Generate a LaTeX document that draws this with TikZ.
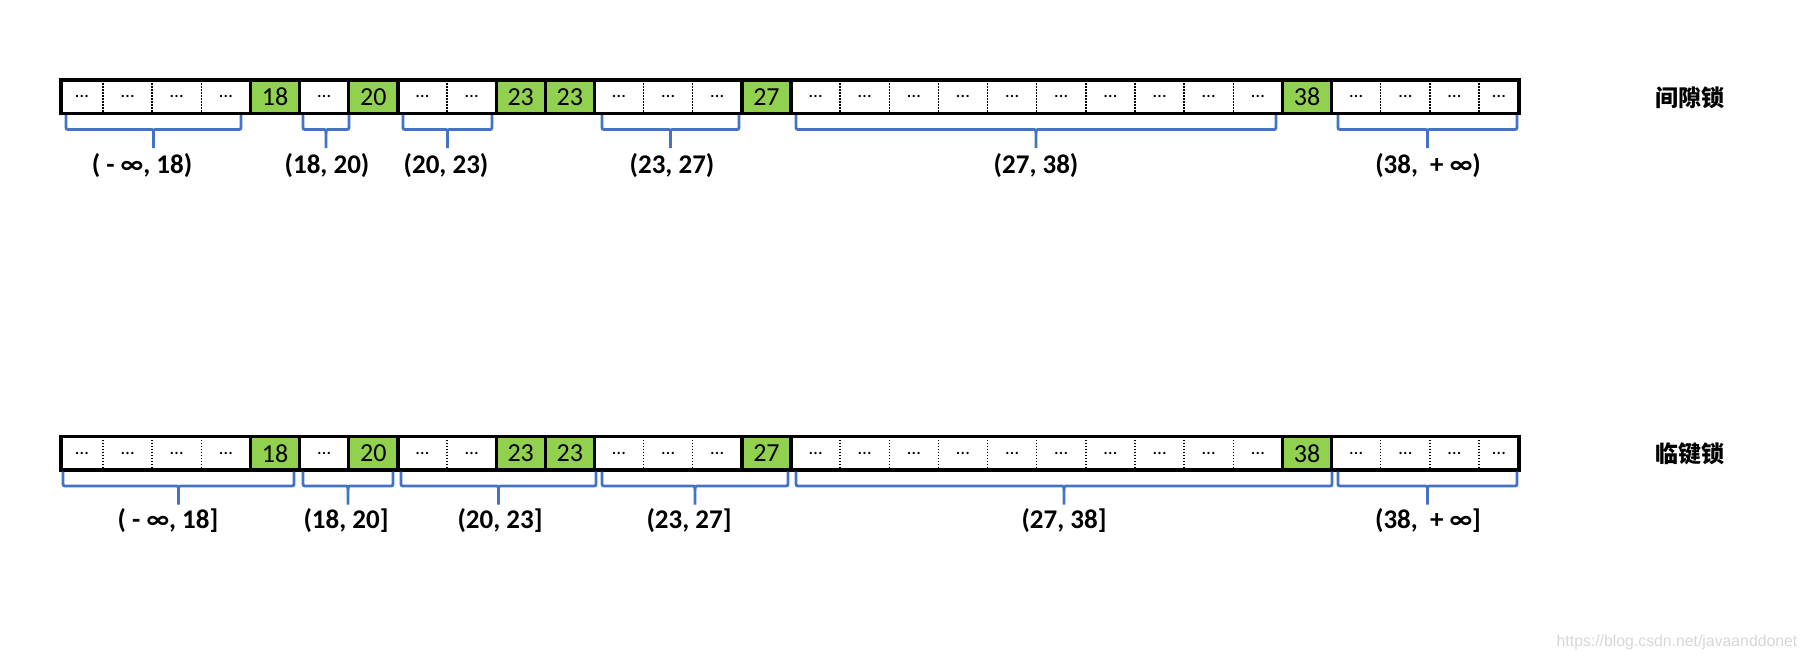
\documentclass[tikz,border=0pt]{standalone}
\usepackage{fontspec}
\setmainfont{Carlito}
\newfontfamily\cjk{Noto Sans CJK SC}
\newfontfamily\wmfont{Liberation Sans}
\definecolor{cellgreen}{HTML}{92D050}
\definecolor{bracecol}{HTML}{4472C4}
\definecolor{wmgray}{HTML}{D6D6D6}

\newcommand{\lockbar}[3]{% prefix, top y, bottom y
  \pgfmathsetmacro\ymid{(#2+#3)/2}
  \foreach \i/\t in {4/18,6/20,9/23,10/23,14/27,25/38}{
    \fill[cellgreen] ({ex(\i)},#2) rectangle ({ex(\i+1)},#3);
    \node[numtxt] (#1-n\i) at ({(ex(\i)+ex(\i+1))/2},\ymid) {\t};
  }
  \foreach \i in {0,1,2,3,5,7,8,11,12,13,15,16,17,18,19,20,21,22,23,24,26,27,28,29}{
    \node[dotstxt] (#1-d\i) at ({(ex(\i)+ex(\i+1))/2},\ymid) {…};
  }
  \foreach \i in {1,2,3,8,12,13,16,17,18,19,20,21,22,23,24,27,28,29}{
    \draw[dashln] ({ex(\i)},#2) -- ({ex(\i)},#3);
  }
  \foreach \i in {4,5,6,7,9,10,11,14,15,25,26}{
    \draw[thickln] ({ex(\i)},#2) -- ({ex(\i)},#3);
  }
  \draw[thickln] (61,#2) rectangle (1519,#3);
}

\newcommand{\lockbrace}[3]{% x1, x2, bar bottom
  \pgfmathsetmacro\xm{(#1+#2)/2}
  \pgfmathsetmacro\ya{#3+1.5}
  \pgfmathsetmacro\yh{#3+16}
  \pgfmathsetmacro\yb{#3+12}
  \pgfmathsetmacro\yc{#3+20}
  \pgfmathsetmacro\ye{#3+34.5}
  \draw[brc] (#1,\ya) -- (#1,\yb) .. controls (#1,\yh) .. ({#1+4},\yh) -- ({\xm-4},\yh) .. controls (\xm,\yh) .. (\xm,\yc) -- (\xm,\ye);
  \draw[brc] (#2,\ya) -- (#2,\yb) .. controls (#2,\yh) .. ({#2-4},\yh) -- ({\xm+4},\yh) .. controls (\xm,\yh) .. (\xm,\yc);
}

\begin{document}
\begin{tikzpicture}[x=0.5pt,y=-0.5pt,
  declare function={ex(\i)=(\i==0)*61+(\i==30)*1519+(\i>0)*(\i<30)*(103+(\i-1)*49.143);},
  thickln/.style={line width=1.65pt},
  dashln/.style={line width=0.75pt, dash pattern=on 0.75pt off 0.75pt},
  brc/.style={draw=bracecol, line width=1.4pt},
  numtxt/.style={font=\fontsize{13}{13}\selectfont, inner sep=0pt},
  dotstxt/.style={font=\fontsize{9.5}{9.5}\selectfont, inner sep=0pt},
  lbl/.style={font=\bfseries\fontsize{13.5}{14}\selectfont, inner sep=0pt},
  cjklbl/.style={font=\cjk\bfseries\fontsize{11.5}{12}\selectfont, inner sep=0pt}]
\useasboundingbox (0,0) rectangle (1808,660);

% ---------- top bar: gap lock ----------
\lockbar{top}{80}{113.5}
\lockbrace{66}{241}{113.5}
\lockbrace{303}{349}{113.5}
\lockbrace{403}{492}{113.5}
\lockbrace{602}{739}{113.5}
\lockbrace{796}{1276}{113.5}
\lockbrace{1338}{1517}{113.5}
\node[lbl] (tl1) at (142,166) {( - ∞, 18)};
\node[lbl] (tl2) at (327,166) {(18, 20)};
\node[lbl] (tl3) at (446,166) {(20, 23)};
\node[lbl] (tl4) at (672,166) {(23, 27)};
\node[lbl] (tl5) at (1036,166) {(27, 38)};
\node[lbl] (tl6) at (1428,166) {(38,\ \ + ∞)};
\node[cjklbl] (gap) at (1690,98) {间隙锁};

% ---------- bottom bar: next-key lock ----------
\lockbar{bot}{436.5}{470}
\lockbrace{63}{294}{470}
\lockbrace{303}{393}{470}
\lockbrace{401}{596}{470}
\lockbrace{602}{788}{470}
\lockbrace{796}{1332}{470}
\lockbrace{1338}{1517}{470}
\node[lbl] (bl1) at (168,521) {( - ∞, 18]};
\node[lbl] (bl2) at (346,521) {(18, 20]};
\node[lbl] (bl3) at (500,521) {(20, 23]};
\node[lbl] (bl4) at (689,521) {(23, 27]};
\node[lbl] (bl5) at (1064,521) {(27, 38]};
\node[lbl] (bl6) at (1428,521) {(38,\ \ + ∞]};
\node[cjklbl] (nextkey) at (1690,454) {临键锁};

% watermark
\node[font=\wmfont\fontsize{7.9}{8}\selectfont, text=wmgray, inner sep=0pt] (wm) at (1677,642) {https://blog.csdn.net/javaanddonet};
\end{tikzpicture}
\end{document}
